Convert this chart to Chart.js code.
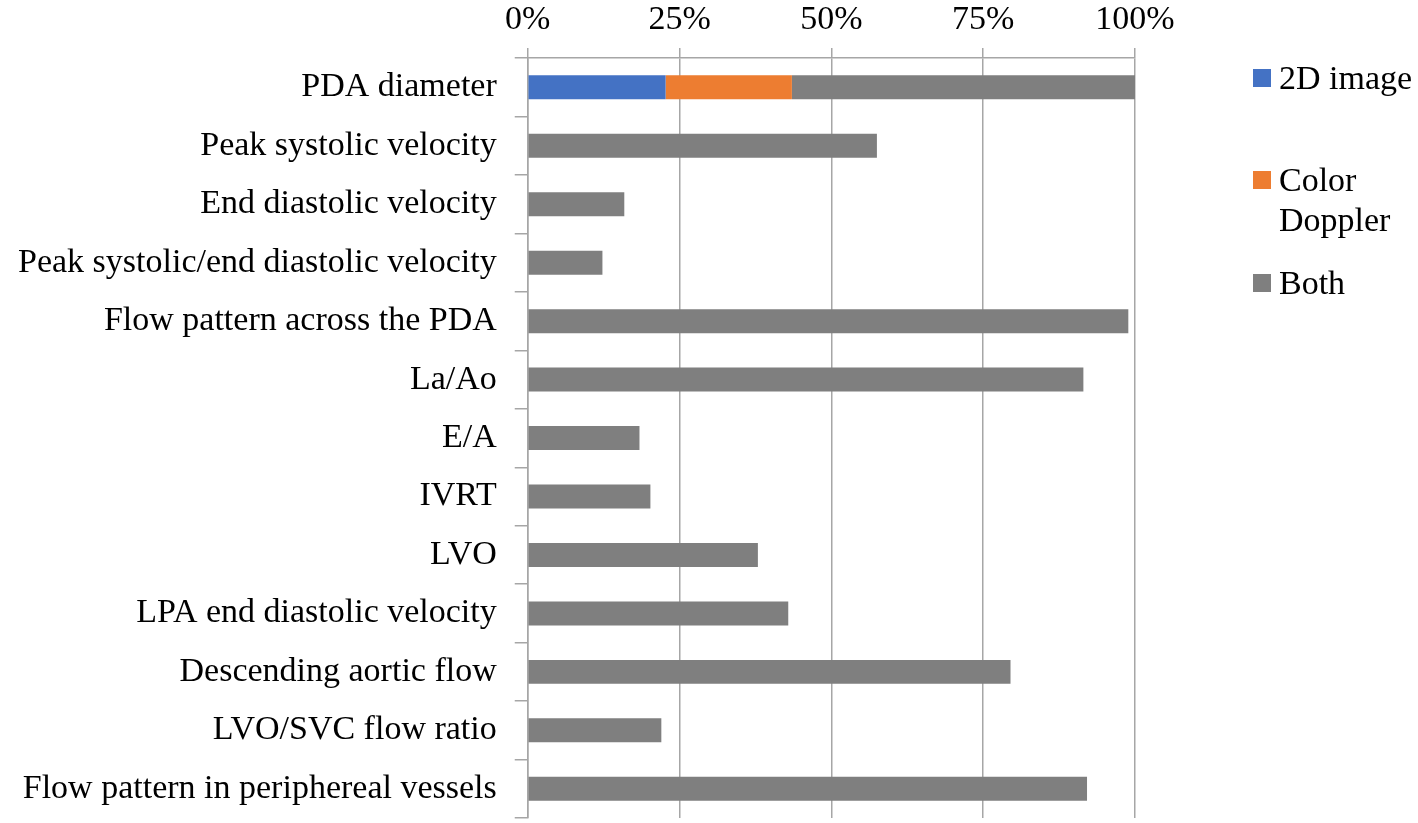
<!DOCTYPE html>
<html>
<head>
<meta charset="utf-8">
<script src="https://cdn.jsdelivr.net/npm/chart.js@4"></script>
<style>
  html, body { margin: 0; padding: 0; background: #fff; }
  #wrap { position: relative; width: 1418px; height: 823px; }
  #legend { position: absolute; left: 1253px; top: 0; font-family: "Liberation Serif", "Times New Roman", serif; font-size: 34px; color: #000; }
  .item { position: absolute; left: 0; white-space: nowrap; line-height: 40px; }
  .box { position: absolute; left: 0; width: 18px; height: 18px; }
  .txt { position: absolute; left: 26px; }
</style>
</head>
<body>
<div id="wrap">
  <canvas id="chart" width="1418" height="823"></canvas>
  <div id="legend"></div>
</div>
<script>
var categories = ['PDA diameter', 'Peak systolic velocity', 'End diastolic velocity',
    'Peak systolic/end diastolic velocity', 'Flow pattern across the PDA', 'La/Ao', 'E/A',
    'IVRT', 'LVO', 'LPA end diastolic velocity', 'Descending aortic flow',
    'LVO/SVC flow ratio', 'Flow pattern in periphereal vessels'];
var seriesNames = ['2D image', 'Color Doppler', 'Both'];
var twoD    = [22.7, null, null, null, null, null, null, null, null, null, null, null, null];
var doppler = [20.8, null, null, null, null, null, null, null, null, null, null, null, null];
var both    = [56.5, 57.5, 15.9, 12.3, 98.9, 91.5, 18.4, 20.2, 37.9, 42.9, 79.5, 22.0, 92.1];
var xTicks  = [0, 25, 50, 75, 100];

var colors = ['#4472C4', '#ED7D31', '#7F7F7F'];
var serif = '"Liberation Serif", "Times New Roman", serif';

var values = [twoD, doppler, both];
var datasets = [];
for (var i = 0; i < seriesNames.length; i++) {
    datasets.push({
        label: seriesNames[i],
        data: values[i],
        backgroundColor: colors[i],
        borderWidth: 0,
        barPercentage: 0.41,
        categoryPercentage: 1.0
    });
}

var chart = new Chart(document.getElementById('chart'), {
    type: 'bar',
    data: { labels: categories, datasets: datasets },
    options: {
        indexAxis: 'y',
        responsive: false,
        animation: false,
        layout: { padding: { left: 0, right: 283, top: -7, bottom: 5 } },
        plugins: { legend: { display: false }, tooltip: { enabled: false } },
        scales: {
            x: {
                position: 'top',
                stacked: true,
                min: 0,
                max: 100,
                afterBuildTicks: function (axis) {
                    axis.ticks = xTicks.map(function (v) { return { value: v }; });
                },
                ticks: {
                    color: '#000',
                    font: { family: serif, size: 34, lineHeight: 1.15 },
                    padding: 8,
                    callback: function (v) { return v + '%'; }
                },
                grid: { color: '#a6a6a6', lineWidth: 1.5, tickLength: 10 },
                border: { display: true, color: '#a6a6a6', width: 1.5 }
            },
            y: {
                stacked: true,
                // labels sit between offset ticks, no extra room needed above/below
                afterFit: function (axis) {
                    axis.paddingTop = 0;
                    axis.paddingBottom = 0;
                },
                ticks: {
                    color: '#000',
                    font: { family: serif, size: 34 },
                    padding: 18
                },
                grid: { drawOnChartArea: false, color: '#a6a6a6', lineWidth: 1.5, tickLength: 13, offset: true },
                border: { display: true, color: '#a6a6a6', width: 1.5 }
            }
        }
    }
});

// legend laid out like the original (right side, wrapped text)
var legendTops = [78, 180, 283];
var legendText = [['2D image'], ['Color', 'Doppler'], ['Both']];
var legend = document.getElementById('legend');
for (var j = 0; j < seriesNames.length; j++) {
    var it = document.createElement('div');
    it.className = 'item';
    it.style.top = (legendTops[j] - 20) + 'px';
    var box = document.createElement('div');
    box.className = 'box';
    box.style.background = colors[j];
    box.style.top = '11px';
    var t = document.createElement('div');
    t.className = 'txt';
    t.innerHTML = legendText[j].join('<br>');
    it.appendChild(box);
    it.appendChild(t);
    legend.appendChild(it);
}
</script>
</body>
</html>
